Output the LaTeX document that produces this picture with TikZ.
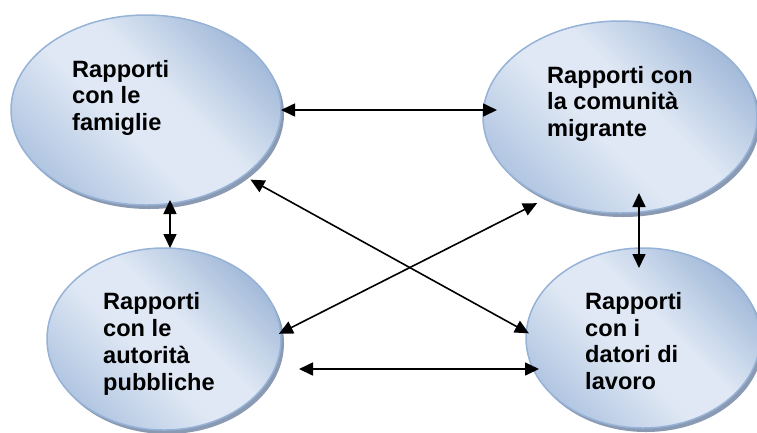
\documentclass[tikz,border=0pt]{standalone}
\usepackage{fontspec}
\setmainfont{Liberation Sans}
\usetikzlibrary{shapes.geometric,arrows.meta,shadows,calc}
\definecolor{ellTop}{RGB}{164,187,218}
\definecolor{ellMid}{RGB}{223,232,244}
\definecolor{ellBot}{RGB}{178,198,226}
\definecolor{ellLine}{RGB}{150,178,214}
\definecolor{ellShadow}{RGB}{138,154,178}
\pgfdeclareverticalshading{bubbleshade}{100bp}{color(0bp)=(ellBot); color(25bp)=(ellBot); color(44bp)=(ellMid); color(56bp)=(ellMid); color(75bp)=(ellTop); color(100bp)=(ellTop)}
\begin{document}
\begin{tikzpicture}[x=1pt,y=-1pt,
  bubble/.style={ellipse, inner sep=0pt, outer sep=0pt, draw=ellLine, line width=1.5pt,
    shade, shading=bubbleshade, shading angle=-45,
    drop shadow={shadow xshift=3pt, shadow yshift=-4pt, fill=ellShadow, opacity=1}},
  lbl/.style={anchor=base west, inner sep=0pt, align=left, font=\bfseries\fontsize{23.6}{26.7}\selectfont},
  link/.style={line width=1.6pt, {Triangle[length=14pt,width=13pt]}-{Triangle[length=14pt,width=13pt]}}]
\useasboundingbox (0,0) rectangle (757,432);
\node[bubble, minimum width=270pt, minimum height=190pt] (e1) at (146,110) {};
\node[bubble, minimum width=274pt, minimum height=192pt] (e2) at (620,117) {};
\node[bubble, minimum width=234pt, minimum height=182pt] (e3) at (164,339) {};
\node[bubble, minimum width=234pt, minimum height=180pt] (e4) at (643,338) {};
\node[lbl] (t1) at (72,130.4) {Rapporti\\con le\\famiglie};
\node[lbl] (t2) at (547,136.4) {Rapporti con\\la comunità\\migrante};
\node[lbl] (t3) at (103,390) {Rapporti\\con le\\autorità\\pubbliche};
\node[lbl] (t4) at (585,389.5) {Rapporti\\con i\\datori di\\lavoro};
% connectors
\draw[link, shorten >=-14pt] (e1.east) -- (e1.east -| e2.west);
\draw[link, shorten <=-5pt] ([xshift=24pt]e1.south) -- ([xshift=24pt]e1.south |- e3.north);
\draw[link, shorten <=-20pt, shorten >=-20pt] ([xshift=19pt]e2.south) -- ([xshift=19pt]e2.south |- e4.north);
\draw[link, shorten <=18pt, shorten >=-13pt] ([yshift=-30pt]e3.east) -- ([yshift=-30pt]e3.east -| e4.west);
\draw[link, shorten <=8pt, shorten >=-3pt] (e1.-34.6) -- (e4.177.5);
\draw[link, shorten <=-2pt, shorten >=11pt] (e3.3) -- (e2.-132.7);
\end{tikzpicture}
\end{document}
